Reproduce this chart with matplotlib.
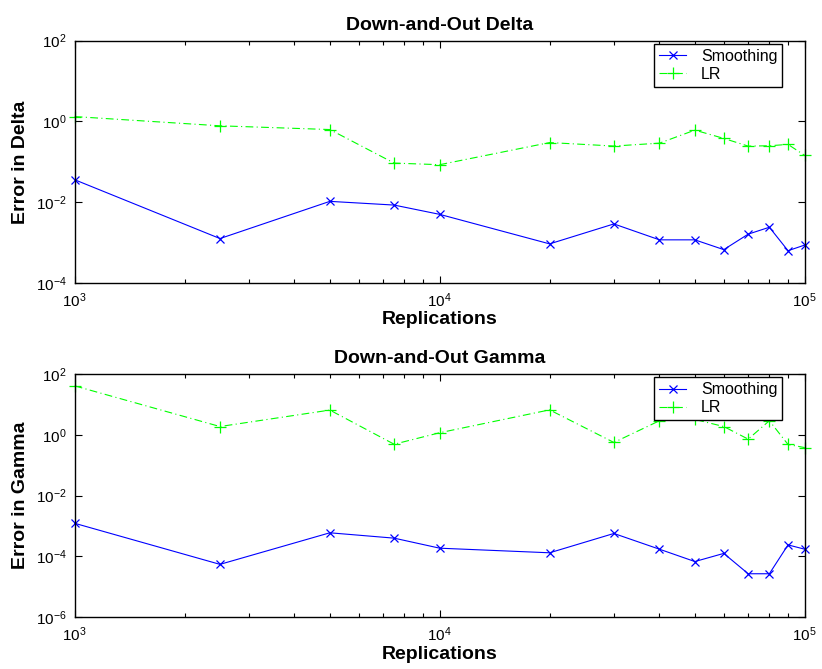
import matplotlib
matplotlib.use("Agg")
import matplotlib.pyplot as plt
from matplotlib.ticker import LogLocator, NullLocator

plt.rcParams['font.family'] = ['Liberation Sans', 'DejaVu Sans']
plt.rcParams['mathtext.fontset'] = 'custom'
plt.rcParams['mathtext.rm'] = 'Liberation Sans'
plt.rcParams['mathtext.it'] = 'Liberation Sans:italic'
plt.rcParams['mathtext.bf'] = 'Liberation Sans:bold'

replications = [1000, 2500, 5000, 7500, 10000, 20000, 30000, 40000,
                50000, 60000, 70000, 80000, 90000, 100000]

delta_smoothing = [0.036, 0.00126, 0.0105, 0.0085, 0.0050, 0.00093, 0.0029,
                   0.00117, 0.00117, 0.00067, 0.00162, 0.0024, 0.00063, 0.00087]
delta_lr = [1.32, 0.78, 0.63, 0.093, 0.085, 0.30, 0.246,
            0.29, 0.61, 0.38, 0.245, 0.25, 0.27, 0.144]

gamma_smoothing = [0.00123, 5.5e-5, 6.0e-4, 4.0e-4, 1.87e-4, 1.32e-4, 5.7e-4,
                   1.73e-4, 6.8e-5, 1.26e-4, 2.7e-5, 2.7e-5, 2.4e-4, 1.73e-4]
gamma_lr = [40.6, 1.87, 6.5, 0.49, 1.17, 6.6, 0.56,
            2.9, 3.2, 1.87, 0.72, 2.9, 0.48, 0.38]

panels = [
    ("Down-and-Out Delta", "Error in Delta", delta_smoothing, delta_lr,
     (1e-4, 1e2), [1e-4, 1e-2, 1e0, 1e2]),
    ("Down-and-Out Gamma", "Error in Gamma", gamma_smoothing, gamma_lr,
     (1e-6, 1e2), [1e-6, 1e-4, 1e-2, 1e0, 1e2]),
]

fig = plt.figure(figsize=(8.22, 6.69), dpi=100)
rects = [[0.0909, 0.5770, 0.8881, 0.3622],
         [0.0909, 0.0773, 0.8881, 0.3637]]

for rect, (title, ylabel, smooth, lr, ylim, yticks) in zip(rects, panels):
    ax = fig.add_axes(rect)
    ax.plot(replications, smooth, color='#0000ff', linestyle='-', linewidth=0.8,
            marker='x', markersize=6, markeredgewidth=0.9, label='Smoothing',
            clip_on=False)
    ax.plot(replications, lr, color='#00ff00', linestyle='-.', linewidth=0.8,
            marker='+', markersize=9, markeredgewidth=0.9, label='LR',
            dashes=(7, 3, 1, 3), clip_on=False)
    ax.set_xscale('log')
    ax.set_yscale('log')
    ax.set_xlim(1e3, 1e5)
    ax.set_ylim(*ylim)
    ax.set_yticks(yticks)
    ax.yaxis.set_minor_locator(NullLocator())
    ax.xaxis.set_major_locator(LogLocator(base=10, numticks=10))
    ax.xaxis.set_minor_locator(LogLocator(base=10, subs=range(2, 10), numticks=20))
    ax.tick_params(which='both', direction='in', top=True, right=True,
                   labelsize=11, width=0.8)
    ax.tick_params(which='major', length=5, pad=6)
    ax.tick_params(which='minor', length=3)
    for sp in ax.spines.values():
        sp.set_linewidth(1.0)
        sp.set_zorder(3)
    ax.set_title(title, fontsize=14, fontweight='bold', pad=8)
    ax.set_xlabel('Replications', fontsize=14, fontweight='bold', labelpad=1)
    ax.set_ylabel(ylabel, fontsize=14, fontweight='bold', labelpad=5)
    leg = ax.legend(loc='upper right', bbox_to_anchor=(0.969, 0.986),
                    borderaxespad=0, fontsize=11.5, fancybox=False,
                    framealpha=1, edgecolor='black', handlelength=1.7,
                    handletextpad=0.9, borderpad=0.3, labelspacing=0.2)
    leg.get_frame().set_linewidth(1.0)
    leg.set_zorder(5)

fig.savefig('out.png', dpi=100)
